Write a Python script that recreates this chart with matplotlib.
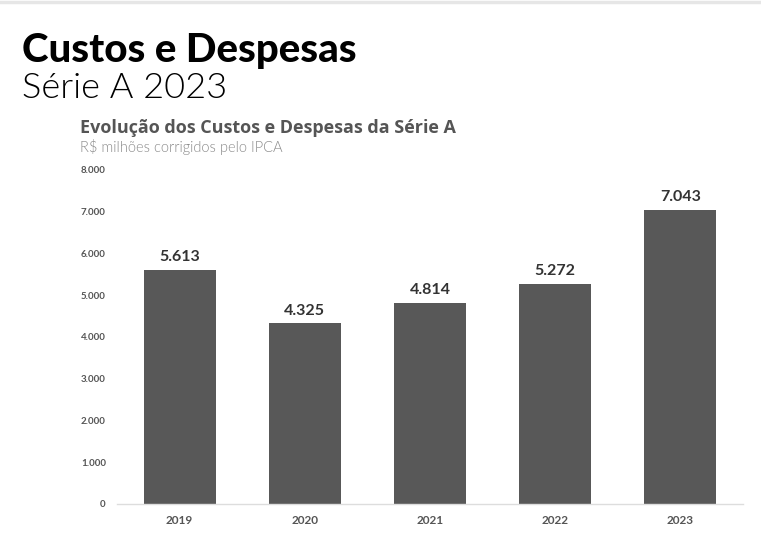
import matplotlib.pyplot as plt
from matplotlib.lines import Line2D

# dados
anos = ["2019", "2020", "2021", "2022", "2023"]
valores = [5613, 4325, 4814, 5272, 7043]
rotulos = ["5.613", "4.325", "4.814", "5.272", "7.043"]
yticks = [0, 1000, 2000, 3000, 4000, 5000, 6000, 7000, 8000]
ytick_labels = ["0", "1.000", "2.000", "3.000", "4.000", "5.000", "6.000", "7.000", "8.000"]

plt.rcParams['font.family'] = ['Lato', 'DejaVu Sans']

fig = plt.figure(figsize=(7.61, 5.40), dpi=100)
ax = fig.add_axes([0.1537, 0.0667, 0.8226, 0.6185])

x = range(len(anos))
ax.bar(x, valores, width=0.575, color="#585858")

for i, v in enumerate(valores):
    ax.annotate(rotulos[i], (i, v), xytext=(0, 4), textcoords="offset points",
                ha="center", va="bottom", fontsize=11.5, fontweight="bold", color="#333333")

ax.set_xlim(-0.5, 4.5)
ax.set_ylim(0, 8000)
ax.set_xticks(list(x))
ax.set_xticklabels(anos, fontsize=8.5, fontweight="bold", color="#555555")
ax.set_yticks(yticks)
ax.set_yticklabels(ytick_labels, fontsize=7, fontweight="bold", color="#555555")
ax.tick_params(axis="both", length=0)
ax.tick_params(axis="x", pad=8)
ax.tick_params(axis="y", pad=8)
for s in ["top", "right", "left"]:
    ax.spines[s].set_visible(False)
ax.spines["bottom"].set_color("#dddddd")
ax.spines["bottom"].set_linewidth(1)

# titulos
fig.text(22 / 761, 1 - 62 / 540, "Custos e Despesas", fontsize=29, fontweight="black",
         color="black", ha="left", va="baseline")
fig.text(22 / 761, 1 - 98 / 540, "Série A 2023", fontsize=26, fontweight=300,
         color="black", ha="left", va="baseline")
fig.text(80 / 761, 1 - 133 / 540, "Evolução dos Custos e Despesas da Série A", fontsize=13,
         fontweight="bold", color="#555555", ha="left", va="baseline",
         family=["Open Sans", "DejaVu Sans"])
fig.text(80 / 761, 1 - 152 / 540, "R$ milhões corrigidos pelo IPCA", fontsize=10.5,
         fontweight=300, color="#8a8a8a", ha="left", va="baseline")

fig.add_artist(Line2D([0, 1], [1 - 1.5 / 540, 1 - 1.5 / 540], color="#e6e6e6", linewidth=2.5,
                      transform=fig.transFigure))

fig.savefig("out.png", dpi=100)
